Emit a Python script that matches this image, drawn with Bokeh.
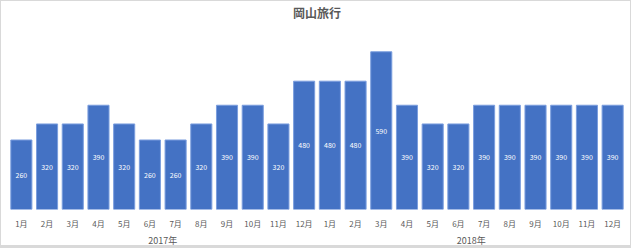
from bokeh.plotting import figure
from bokeh.models import ColumnDataSource, LinearAxis, FixedTicker, Range1d
from bokeh.core.properties import value
from bokeh.embed import file_html
from bokeh.resources import INLINE

title = "岡山旅行"
years = ["2017年", "2018年"]
months = ["1月", "2月", "3月", "4月", "5月", "6月", "7月", "8月", "9月", "10月", "11月", "12月"]
values_2017 = [260, 320, 320, 390, 320, 260, 260, 320, 390, 390, 320, 480]
values_2018 = [480, 480, 590, 390, 320, 320, 390, 390, 390, 390, 390, 390]

vals = values_2017 + values_2018
n = len(vals)
xs = [i + 0.5 for i in range(n)]
src = ColumnDataSource(dict(x=xs, top=vals, mid=[v / 2 for v in vals], lab=[str(v) for v in vals]))

FONT = "Noto Sans CJK JP"

p = figure(width=631, height=248, output_backend="svg", toolbar_location=None,
           x_range=Range1d(0, n), y_range=Range1d(0, 707),
           x_axis_type=None, y_axis_type=None,
           min_border_left=7, min_border_right=7, min_border_top=0, min_border_bottom=36)
p.styles = {"border-top": "1px solid #d9d9d9", "border-left": "1px solid #d9d9d9",
            "border-right": "1px solid #d9d9d9", "border-bottom": "3px solid #d9d9d9"}
p.outline_line_color = None
p.background_fill_color = "white"
p.border_fill_color = "white"

p.title.text = title
p.title.align = "center"
p.title.text_font = FONT
p.title.text_font_size = "12px"
p.title.text_font_style = "bold"
p.title.text_color = "#595959"
p.title.standoff = 0
p.title.offset = 0

p.ygrid.visible = False
p.xgrid.ticker = FixedTicker(ticks=list(range(n + 1)))
p.xgrid.grid_line_color = "#d9d9d9"
p.xgrid.grid_line_width = 1

p.vbar(x="x", top="top", width=0.82, bottom=0, source=src,
       fill_color="#4472C4", line_color="#7b9ede", line_width=1)
p.text(x="x", y="mid", text="lab", source=src, text_align="center", text_baseline="middle",
       text_color="white", text_font=value(FONT), text_font_size="7px")

month_axis = LinearAxis(ticker=FixedTicker(ticks=xs),
                        major_label_overrides={x: months[i % 12] for i, x in enumerate(xs)})
year_axis = LinearAxis(ticker=FixedTicker(ticks=[6, 18]),
                       major_label_overrides={6: years[0], 18: years[1]})
for ax, fs, st in ((month_axis, "8px", 8), (year_axis, "9px", 2)):
    ax.axis_line_color = None
    ax.major_tick_line_color = None
    ax.minor_tick_line_color = None
    ax.major_tick_in = 0
    ax.major_tick_out = 0
    ax.major_label_text_font = FONT
    ax.major_label_text_font_size = fs
    ax.major_label_text_color = "#595959"
    ax.major_label_standoff = st
    p.add_layout(ax, "below")

open("out.html", "w").write(file_html(p, INLINE))
